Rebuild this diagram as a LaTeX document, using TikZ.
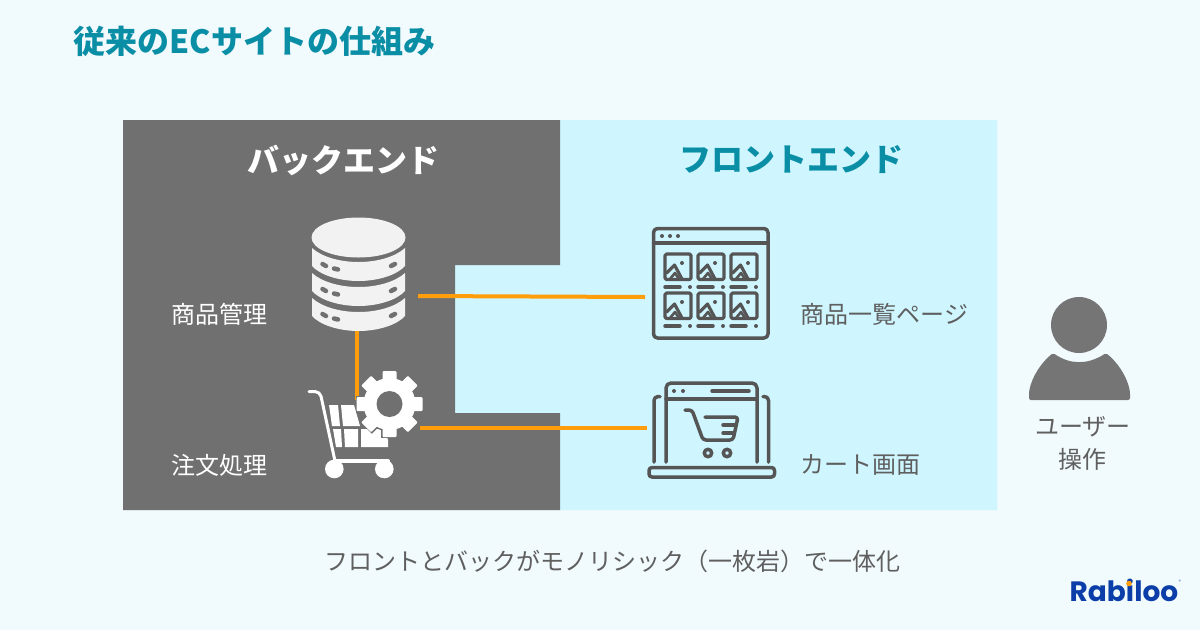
\documentclass[tikz,border=0pt]{standalone}
\usepackage{fontspec}
\setmainfont{Noto Sans CJK JP}
\newfontfamily\logofont{Poppins}
\definecolor{bgc}{HTML}{F1FAFC}
\definecolor{backc}{HTML}{707070}
\definecolor{frontc}{HTML}{CFF6FF}
\definecolor{teal}{HTML}{0A8EA6}
\definecolor{orangec}{HTML}{FF9D0A}
\definecolor{iconc}{HTML}{555555}
\definecolor{dbc}{HTML}{F2F2F2}
\definecolor{personc}{HTML}{757575}
\definecolor{captc}{HTML}{5F5F5F}
\definecolor{logoc}{HTML}{0B3EA8}
\tikzset{
  title/.style={font=\fontsize{32}{32}\selectfont\bfseries,inner sep=0pt},
  head/.style={font=\fontsize{32}{32}\selectfont\bfseries,inner sep=0pt},
  lab/.style={font=\fontsize{24}{24}\selectfont,inner sep=0pt},
  link/.style={draw=orangec,line width=4pt},
  ic/.style={draw=iconc,line width=3.5pt,line cap=round,line join=round},
  icthin/.style={draw=iconc,line width=3.2pt,line cap=round,line join=round},
  dbdot/.style={draw=backc,line width=4.5pt,line cap=round},
}
\begin{document}
\begin{tikzpicture}[x=1pt,y=-1pt]
\useasboundingbox (0,0) rectangle (1200,630);
\fill[bgc] (0,0) rectangle (1200,630);
% panels
\fill[frontc] (455,265) -- (560,265) -- (560,120) -- (997,120) -- (997,510) -- (560,510) -- (560,413) -- (455,413) -- cycle;
\fill[backc] (123,120) -- (560,120) -- (560,265) -- (455,265) -- (455,413) -- (560,413) -- (560,510) -- (123,510) -- cycle;
% text
\node[title,text=teal,anchor=west] (ttl) at (73.5,41) {従来のECサイトの仕組み};
\node[head,text=white] (hback) at (343,160) {バックエンド};
\node[head,text=teal] (hfront) at (791,160) {フロントエンド};
\node[lab,text=white] (l1) at (219,314.5) {商品管理};
\node[lab,text=white] (l2) at (219,465.5) {注文処理};
\node[lab,text=captc,anchor=west] (l3) at (800.5,314.5) {商品一覧ページ};
\node[lab,text=captc,anchor=west] (l4) at (800.5,465.5) {カート画面};
\node[lab,text=captc] (l5) at (1083,426.5) {ユーザー};
\node[lab,text=captc] (l6) at (1082.5,459.5) {操作};
\node[lab,text=captc] (cap) at (612,561.5) {フロントとバックがモノリシック（一枚岩）で一体化};
% connector end points
\coordinate (dbR) at (418,296);
\coordinate (dbB) at (356.7,331);
\coordinate (gearL) at (356.7,400);
\coordinate (gearR) at (420,428);
\coordinate (gridL) at (645,297);
\coordinate (lapL) at (647,428);
\draw[link] (dbR) -- (gridL);
\draw[link] (gearR) -- (lapL);
\draw[link] (dbB) -- (gearL);
% database
\fill[dbc] (358.5,237.5) ellipse [x radius=47,y radius=20];
\foreach \d in {0,25,50}{
  \fill[dbc] (312,{248+\d}) .. controls (322,{257+\d}) and (340,{262+\d}) .. (358.5,{262+\d})
     .. controls (377,{262+\d}) and (395,{257+\d}) .. (405,{248+\d})
     -- (405,{266+\d}) .. controls (397,{275+\d}) and (378,{281+\d}) .. (358.5,{281+\d})
     .. controls (339,{281+\d}) and (320,{275+\d}) .. (312,{266+\d}) -- cycle;
  \draw[dbdot] (322.5,{264+\d}) -- (326,{266+\d});
  \draw[dbdot] (334,{268.5+\d}) -- (338,{269.5+\d});
  \draw[dbdot] (391,{266+\d}) -- (395,{264+\d});
}
% cart (white)
\draw[white,line width=3pt,line cap=round,line join=round,rounded corners=5pt]
  (309,391.5) -- (320,391.5) -- (335,461);
\draw[white,line width=4pt,line cap=round] (335,461) -- (388,461);
\fill[white] (334.3,469) circle (9.3);
\fill[white] (384.3,469) circle (9.3);
\fill[white] (329,405) -- (338,405) -- (340,426) -- (332,426) -- cycle;
\fill[white] (341,405) -- (354,405) -- (360,426) -- (343,426) -- cycle;
\fill[white] (333,429) -- (341,429) -- (342,447) -- (336,447) -- cycle;
\fill[white] (344,429) -- (358,429) -- (358,447) -- (345,447) -- cycle;
\fill[white] (361,429) -- (384,429) -- (388,440) -- (388,447) -- (361,447) -- cycle;
% gear
\begin{scope}
  \foreach \a in {0,45,...,315}{
    \draw[backc,line width=3pt,rotate around={\a:(389.5,404)}] (382.5,372) rectangle (396.5,382);
  }
  \draw[backc,line width=3pt] (389.5,404) circle (26);
  \fill[white] (389.5,404) circle (26);
  \foreach \a in {0,45,...,315}{
    \fill[white,rotate around={\a:(389.5,404)},rounded corners=1pt] (382.5,371) rectangle (396.5,384);
  }
  \fill[backc] (389.5,404) circle (13);
\end{scope}
% product grid window
\draw[ic,rounded corners=4pt] (653.5,228.5) rectangle (768,338);
\draw[ic] (653.5,243) -- (768,243);
\foreach \x in {662,670,678}{\fill[iconc] (\x,236) circle (2);}
\foreach \x in {665,698,731}{
  \foreach \y in {254,293}{
    \begin{scope}[shift={(\x,\y)}]
      \draw[icthin,rounded corners=1.5pt] (0,0) rectangle (26,25.5);
      \fill[iconc] (17,9) circle (2);
      \draw[icthin] (1.5,19) -- (9.5,11) -- (17,25);
      \draw[icthin,line width=2.6pt] (5,25) -- (10,19) -- (14,25);
      \draw[ic] (0,33) -- (15,33);
      \fill[iconc] (25,33) circle (2);
    \end{scope}
  }
}
% laptop
\draw[ic,rounded corners=5pt] (666,462) -- (666,383) -- (757,383) -- (757,462);
\draw[ic] (666,399) -- (757,399);
\draw[ic,rounded corners=4pt] (654,462) -- (654,396.5) -- (660,396.5);
\draw[ic,rounded corners=4pt] (768.5,462) -- (768.5,396.5) -- (763,396.5);
\draw[ic,rounded corners=3pt] (649,467.5) rectangle (774.5,477);
\fill[iconc] (674,391) circle (2);
\fill[iconc] (683,391) circle (2);
\draw[ic] (712,391) -- (749,391);
\draw[ic,rounded corners=3pt] (685,410) -- (692,410) -- (703,440) -- (733,440) -- (738,417) -- (705,417);
\draw[ic] (723,425) -- (736,425);
\draw[ic] (723,433) -- (734,433);
\draw[ic] (708,453) circle (3.7);
\draw[ic] (727,453) circle (3.7);
% user
\fill[personc] (1079,325) circle (28);
\fill[personc,rounded corners=2pt] (1029,400) -- (1029,392) .. controls (1032,376) and (1042,362) .. (1053,353)
  .. controls (1062,359) and (1070,362) .. (1079,362) .. controls (1088,362) and (1097,359) .. (1106,353)
  .. controls (1117,362) and (1127,376) .. (1130,392) -- (1130,400) -- cycle;
% logo
\node[font=\logofont\fontsize{28}{28}\selectfont\bfseries,text=logoc,inner sep=0pt,anchor=west] (logo) at (1069.5,590) {Rabiloo};
\fill[orangec] (1129,583.5) circle (2.8);
\node[font=\logofont\fontsize{5}{5}\selectfont,text=logoc!70,inner sep=0pt] (reg) at (1180,582) {®};
\end{tikzpicture}
\end{document}
